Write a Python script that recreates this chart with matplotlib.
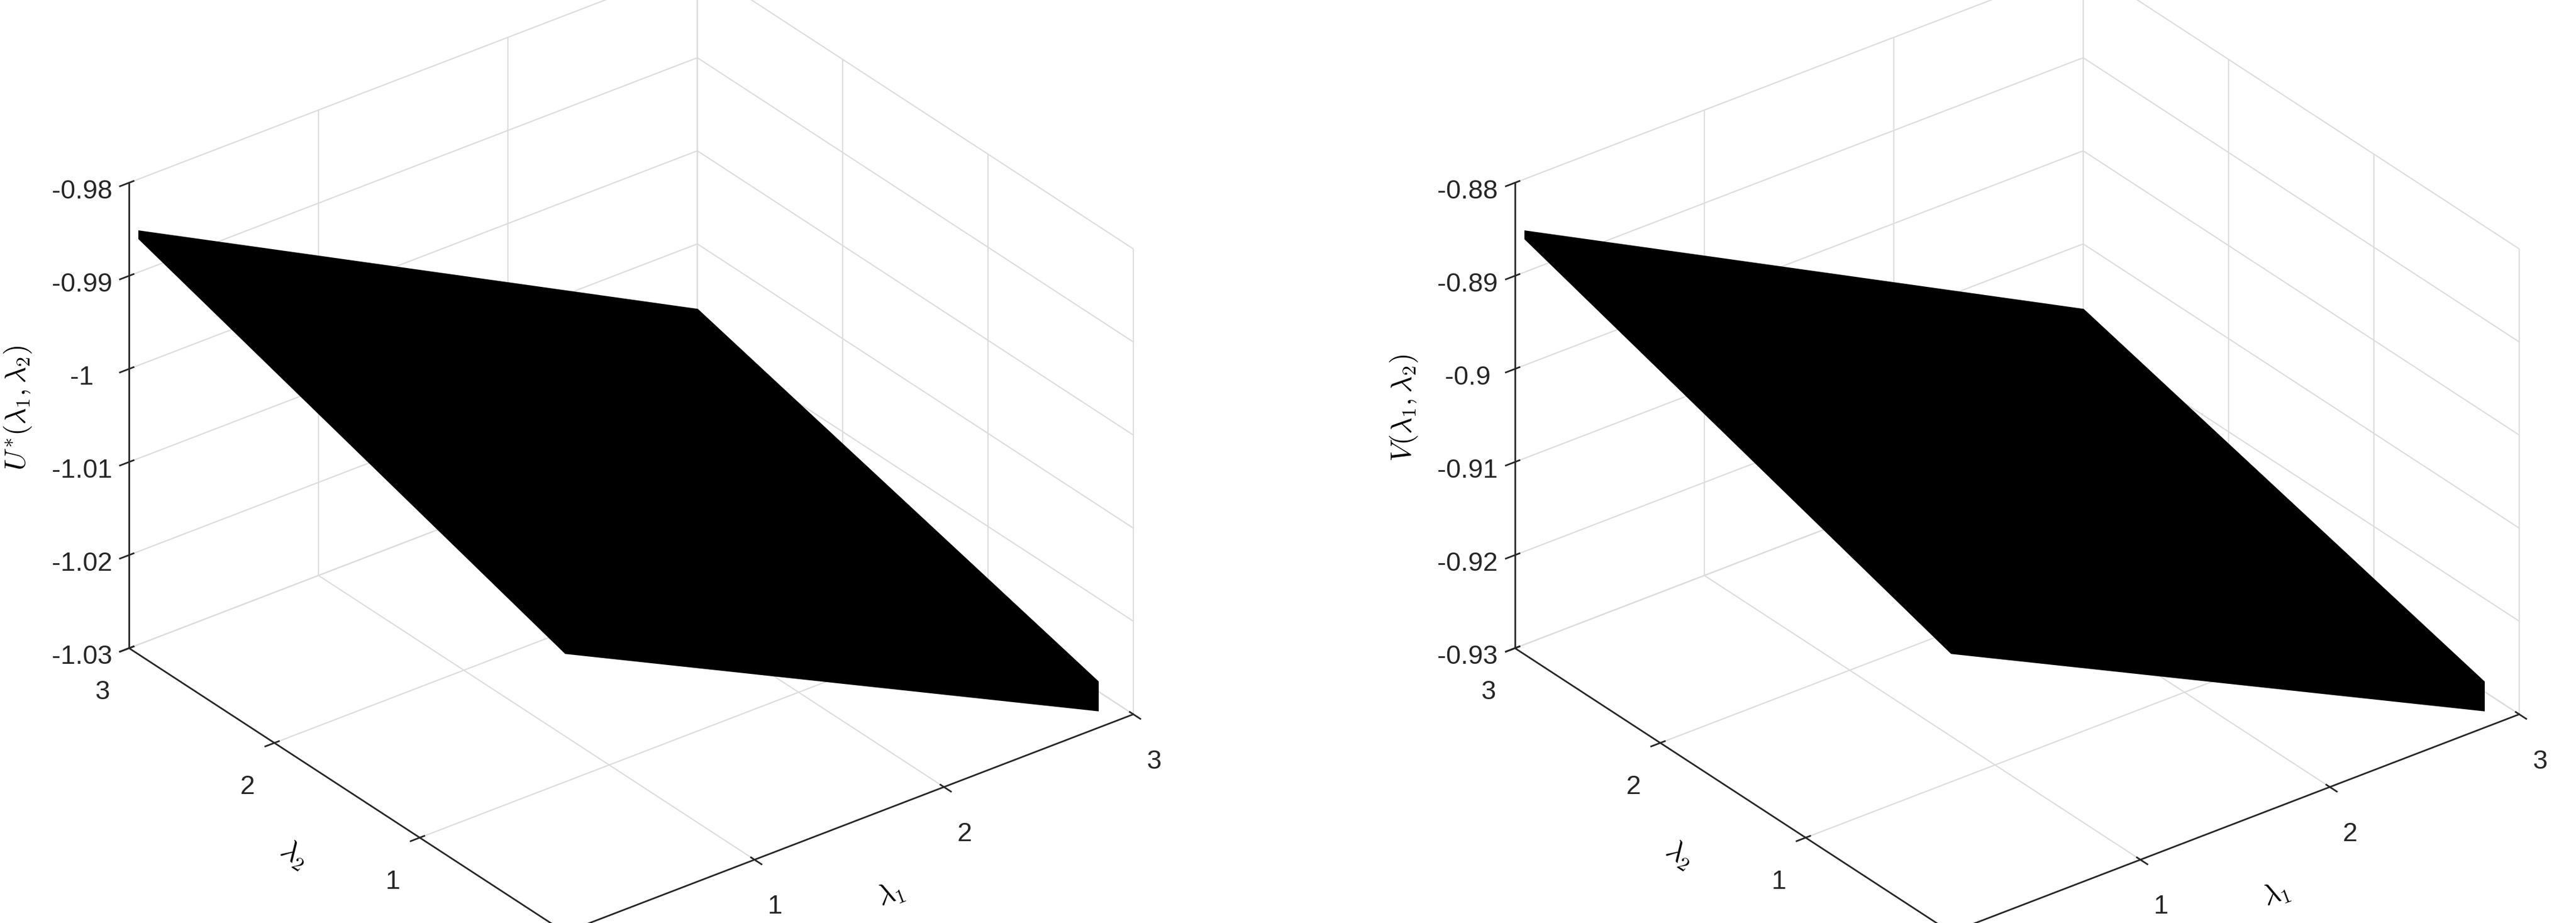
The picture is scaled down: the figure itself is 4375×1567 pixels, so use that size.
import matplotlib
matplotlib.use("Agg")
import matplotlib.pyplot as plt
import numpy as np

plt.rcParams["font.family"] = ["Liberation Sans", "DejaVu Sans"]
plt.rcParams["mathtext.fontset"] = "cm"

LAM = [0, 3]
# corner values, rows = lambda2, cols = lambda1
U_STAR = [[-1.000, -1.030], [-0.985, -1.017]]
V_VAL = [[-0.900, -0.930], [-0.885, -0.917]]
U_TICKS = [-1.03, -1.02, -1.01, -1.0, -0.99, -0.98]
V_TICKS = [-0.93, -0.92, -0.91, -0.90, -0.89, -0.88]


def fmt(v):
    s = f"{v:.2f}".rstrip("0").rstrip(".")
    return s


def panel(ax, z, zticks, zlabel):
    x, y = np.meshgrid(LAM, LAM)
    ax.plot_surface(x, y, np.array(z), color="black", edgecolor="black", linewidth=0.5, shade=False)
    ax.set_xlim(0, 3)
    ax.set_ylim(0, 3)
    ax.set_zlim(zticks[0], zticks[-1])
    ax.set_xticks([0, 1, 2, 3])
    ax.set_yticks([0, 1, 2, 3])
    ax.set_zticks(zticks)
    ax.set_zticklabels([fmt(t) for t in zticks])
    ax.set_xlabel(r"$\lambda_1$", fontsize=14, labelpad=2)
    ax.set_ylabel(r"$\lambda_2$", fontsize=14, labelpad=2)
    ax.set_zlabel(zlabel, fontsize=14, labelpad=6)
    ax.view_init(elev=30, azim=-127.5)
    ax.set_box_aspect(None, zoom=1.16)
    for axis in (ax.xaxis, ax.yaxis, ax.zaxis):
        axis.set_pane_color((1, 1, 1, 1))
        axis.line.set_color("#262626")
        axis._axinfo["grid"]["color"] = "#dcdcdc"
        axis._axinfo["grid"]["linewidth"] = 0.6
    ax.tick_params(labelsize=13, colors="#262626")


fig = plt.figure(figsize=(17.5, 6.268), dpi=250)
ax1 = fig.add_axes([0.005, -0.02, 0.47, 1.04], projection="3d", proj_type="ortho")
ax2 = fig.add_axes([0.543, -0.02, 0.47, 1.04], projection="3d", proj_type="ortho")
panel(ax1, U_STAR, U_TICKS, r"$U^{*}(\lambda_1,\lambda_2)$")
panel(ax2, V_VAL, V_TICKS, r"$V(\lambda_1,\lambda_2)$")
fig.savefig("out.png", dpi=250)
